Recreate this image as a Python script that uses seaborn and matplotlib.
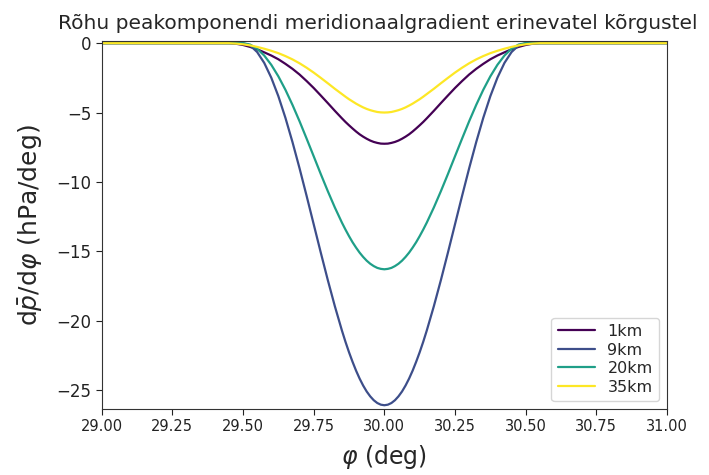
import numpy as np
import pandas as pd
import matplotlib
matplotlib.use("Agg")
import matplotlib.pyplot as plt
import seaborn as sns

# latitude grid (deg)
phi = [29.0,
       29.45, 29.475, 29.5, 29.525, 29.55, 29.575, 29.6, 29.625, 29.65, 29.675,
       29.7, 29.725, 29.75, 29.775, 29.8, 29.825, 29.85,
       29.8625, 29.875, 29.8875, 29.9, 29.9125, 29.925, 29.9375, 29.95, 29.9625,
       29.975, 29.9875,
       30.0,
       30.0125, 30.025, 30.0375, 30.05, 30.0625, 30.075, 30.0875, 30.1, 30.1125,
       30.125, 30.1375,
       30.15, 30.175, 30.2, 30.225, 30.25, 30.275, 30.3, 30.325, 30.35, 30.375,
       30.4, 30.425, 30.45, 30.475, 30.5, 30.525, 30.55,
       31.0]

grad_1km = [0.0,
            0.0, -0.04, -0.13, -0.27, -0.44, -0.66, -0.89, -1.16, -1.49, -1.85,
            -2.26, -2.73, -3.23, -3.77, -4.32, -4.88, -5.42,
            -5.68, -5.92, -6.15, -6.37, -6.57, -6.74, -6.89, -7.02, -7.12,
            -7.19, -7.24,
            -7.25,
            -7.24, -7.19, -7.12, -7.02, -6.89, -6.74, -6.57, -6.37, -6.15,
            -5.92, -5.68,
            -5.42, -4.88, -4.32, -3.77, -3.23, -2.73, -2.26, -1.85, -1.49, -1.16,
            -0.89, -0.66, -0.44, -0.27, -0.13, -0.04, 0.0,
            0.0]

grad_9km = [0.0,
            0.0, 0.0, 0.0, -0.16, -0.64, -1.42, -2.49, -3.82, -5.38, -7.13,
            -9.02, -11.01, -13.05, -15.09, -17.08, -18.97, -20.72,
            -21.53, -22.28, -22.97, -23.61, -24.18, -24.68, -25.11, -25.46, -25.74,
            -25.94, -26.06,
            -26.10,
            -26.06, -25.94, -25.74, -25.46, -25.11, -24.68, -24.18, -23.61, -22.97,
            -22.28, -21.53,
            -20.72, -18.97, -17.08, -15.09, -13.05, -11.01, -9.02, -7.13, -5.38, -3.82,
            -2.49, -1.42, -0.64, -0.16, 0.0, 0.0, 0.0,
            0.0]

grad_20km = [0.0,
             0.0, 0.0, 0.0, -0.10, -0.40, -0.89, -1.56, -2.39, -3.36, -4.45,
             -5.63, -6.88, -8.15, -9.43, -10.67, -11.85, -12.94,
             -13.44, -13.91, -14.35, -14.74, -15.10, -15.41, -15.68, -15.90, -16.07,
             -16.20, -16.27,
             -16.30,
             -16.27, -16.20, -16.07, -15.90, -15.68, -15.41, -15.10, -14.74, -14.35,
             -13.91, -13.44,
             -12.94, -11.85, -10.67, -9.43, -8.15, -6.88, -5.63, -4.45, -3.36, -2.39,
             -1.56, -0.89, -0.40, -0.10, 0.0, 0.0, 0.0,
             0.0]

grad_35km = [0.0,
             0.0, -0.03, -0.08, -0.16, -0.27, -0.40, -0.55, -0.72, -0.93, -1.17,
             -1.45, -1.77, -2.12, -2.50, -2.89, -3.29, -3.67,
             -3.86, -4.04, -4.20, -4.36, -4.50, -4.63, -4.74, -4.83, -4.90,
             -4.96, -4.99,
             -5.00,
             -4.99, -4.96, -4.90, -4.83, -4.74, -4.63, -4.50, -4.36, -4.20,
             -4.04, -3.86,
             -3.67, -3.29, -2.89, -2.50, -2.12, -1.77, -1.45, -1.17, -0.93, -0.72,
             -0.55, -0.40, -0.27, -0.16, -0.08, -0.03, 0.0,
             0.0]

heights = [1, 9, 20, 35]
labels = ["1km", "9km", "20km", "35km"]
series = [grad_1km, grad_9km, grad_20km, grad_35km]

xticks = [29.00, 29.25, 29.50, 29.75, 30.00, 30.25, 30.50, 30.75, 31.00]
yticks = [0, -5, -10, -15, -20, -25]

rows = []
for lab, vals in zip(labels, series):
    for x, v in zip(phi, vals):
        rows.append({"phi": x, "grad": v, "height": lab})
df = pd.DataFrame(rows)

sns.set_style("ticks")
plt.rcParams['font.family'] = ['DejaVu Sans']

cmap = plt.cm.viridis
palette = {lab: cmap((h - heights[0]) / (heights[-1] - heights[0]))
           for lab, h in zip(labels, heights)}

fig = plt.figure(figsize=(7.09, 4.75), dpi=100)
ax = fig.add_axes([0.1434, 0.139, 0.7974, 0.7745])

sns.lineplot(data=df, x="phi", y="grad", hue="height", hue_order=labels,
             palette=palette, linewidth=1.6, ax=ax, estimator=None, sort=False)

ax.set_xlim(29.0, 31.0)
ax.set_ylim(-26.37, 0.15)
ax.set_xticks(xticks)
ax.set_xticklabels([f"{t:.2f}" for t in xticks], fontsize=10.5)
ax.set_yticks(yticks)
ax.set_yticklabels([f"{t}".replace("-", "\u2212") for t in yticks], fontsize=12)
ax.tick_params(colors="#222222", length=4)
ax.set_xlabel(r"$\varphi$ (deg)", fontsize=17, labelpad=6)
ax.set_ylabel(r"d$\bar{p}$/d$\varphi$ (hPa/deg)", fontsize=18, labelpad=8)
ax.set_title("Rõhu peakomponendi meridionaalgradient erinevatel kõrgustel",
             fontsize=14.5, pad=8.6, x=0.489)
for s in ax.spines.values():
    s.set_visible(True)
    s.set_color("#333333")

leg = ax.legend(loc="lower right", fontsize=11.5, frameon=True, labelspacing=0.22,
                handlelength=2.3)
leg.set_title(None)

fig.savefig("out.png", dpi=100)
